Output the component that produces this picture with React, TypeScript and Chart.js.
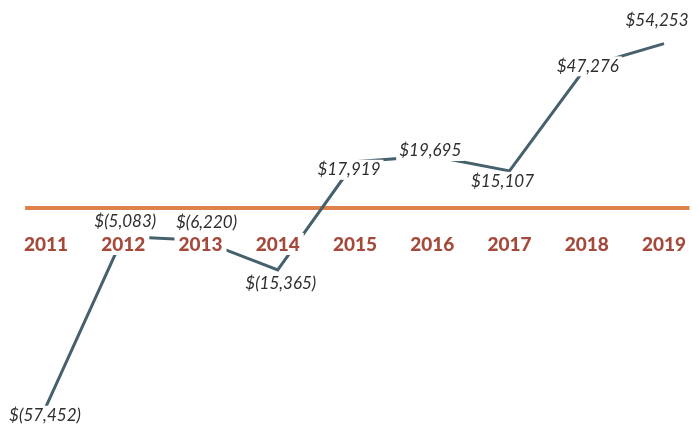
import React, { useEffect, useRef } from "react";
import { Chart, registerables } from "chart.js";

Chart.register(...registerables);

// ---- data ----
const YEARS = ["2011", "2012", "2013", "2014", "2015", "2016", "2017", "2018", "2019"];
const NET_VALUES = [-57452, -5083, -6220, -15365, 17919, 19695, 15107, 47276, 54253];
const Y_MIN = -60000;
const Y_MAX = 60000;
const AXIS_VALUE = 3700; // level where the orange rule sits

const fmt = (v: number) => {
  const s = Math.abs(v).toLocaleString("en-US");
  return v < 0 ? `$(${s})` : `$${s}`;
};

// label nudges (layout only)
const LABEL_DX = [-1, 2, 6, 3, -6, -2, -7, 1, -7];
const LABEL_DY = [8, -16, -19, 13, 7, -6, 10, -1, -24];

const LINE_COLOR = "#46606c";
const ORANGE = "#e0814a";
const YEAR_COLOR = "#a5493b";
const TEXT_COLOR = "#2e2e2e";

const overlay = {
  id: "overlay",
  beforeDatasetsDraw(chart: any) {
    const { ctx, scales } = chart;
    const x = scales.x;
    const y = scales.y;
    const yy = y.getPixelForValue(AXIS_VALUE);
    ctx.save();
    ctx.strokeStyle = ORANGE;
    ctx.lineWidth = 4;
    ctx.beginPath();
    ctx.moveTo(x.getPixelForValue(-0.27), yy);
    ctx.lineTo(x.getPixelForValue(8.33), yy);
    ctx.stroke();
    ctx.restore();
  },
  afterDatasetsDraw(chart: any) {
    const { ctx, scales } = chart;
    const x = scales.x;
    const y = scales.y;
    const yy = y.getPixelForValue(AXIS_VALUE);
    ctx.save();
    ctx.textAlign = "center";
    ctx.textBaseline = "middle";
    // year labels
    ctx.font = "900 19px Lato";
    YEARS.forEach((yr, i) => {
      const cx = x.getPixelForValue(i);
      const cy = yy + 36;
      const w = ctx.measureText(yr).width;
      ctx.fillStyle = "#ffffff";
      ctx.fillRect(cx - w / 2 - 4, cy - 11, w + 8, 22);
      ctx.fillStyle = YEAR_COLOR;
      ctx.fillText(yr, cx, cy + 1);
    });
    // value labels
    ctx.font = "italic 17px Lato";
    const meta = chart.getDatasetMeta(0);
    NET_VALUES.forEach((v, i) => {
      const pt = meta.data[i];
      const cx = pt.x + LABEL_DX[i];
      const cy = pt.y + LABEL_DY[i];
      const t = fmt(v);
      const w = ctx.measureText(t).width;
      ctx.fillStyle = "#ffffff";
      ctx.fillRect(cx - w / 2 - 3, cy - 9, w + 6, 20);
      ctx.fillStyle = TEXT_COLOR;
      ctx.fillText(t, cx, cy + 1);
    });
    ctx.restore();
  },
};

export default function App() {
  const ref = useRef<HTMLCanvasElement | null>(null);
  useEffect(() => {
    if (!ref.current) return;
    const chart = new Chart(ref.current, {
      type: "line",
      data: {
        labels: YEARS,
        datasets: [
          {
            data: NET_VALUES,
            borderColor: LINE_COLOR,
            borderWidth: 3,
            pointRadius: 0,
            tension: 0,
            fill: false,
            clip: false as any,
          },
        ],
      },
      options: {
        animation: false,
        responsive: false,
        devicePixelRatio: 1,
        layout: { padding: { left: 46, right: 36, top: 25, bottom: 15 } },
        plugins: { legend: { display: false }, tooltip: { enabled: false } },
        scales: {
          x: { display: false, offset: false },
          y: { display: false, min: Y_MIN, max: Y_MAX },
        },
      },
      plugins: [overlay],
    });
    return () => chart.destroy();
  }, []);
  return (
    <div style={{ position: "absolute", left: 0, top: 0, width: 700, height: 430, background: "#fff" }}>
      <canvas ref={ref} width={700} height={430} />
    </div>
  );
}
